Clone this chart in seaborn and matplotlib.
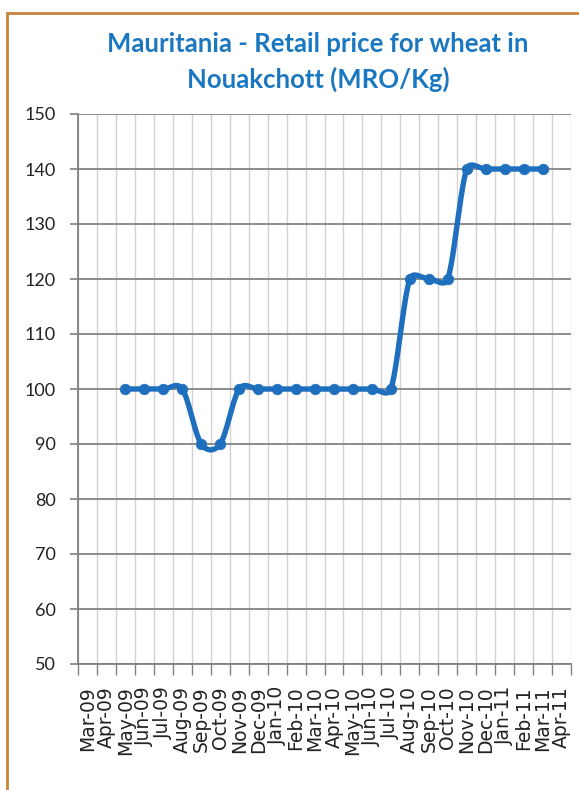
import numpy as np
import pandas as pd
import matplotlib
matplotlib.use("Agg")
import matplotlib.pyplot as plt
import seaborn as sns
from matplotlib.patches import Rectangle

# ---------------- data ----------------
months = ["Mar-09", "Apr-09", "May-09", "Jun-09", "Jul-09", "Aug-09", "Sep-09",
          "Oct-09", "Nov-09", "Dec-09", "Jan-10", "Feb-10", "Mar-10", "Apr-10",
          "May-10", "Jun-10", "Jul-10", "Aug-10", "Sep-10", "Oct-10", "Nov-10",
          "Dec-10", "Jan-11", "Feb-11", "Mar-11", "Apr-11"]
price_months = ["May-09", "Jun-09", "Jul-09", "Aug-09", "Sep-09", "Oct-09",
                "Nov-09", "Dec-09", "Jan-10", "Feb-10", "Mar-10", "Apr-10",
                "May-10", "Jun-10", "Jul-10", "Aug-10", "Sep-10", "Oct-10",
                "Nov-10", "Dec-10", "Jan-11", "Feb-11", "Mar-11"]
prices = [100, 100, 100, 100, 90, 90,
          100, 100, 100, 100, 100, 100,
          100, 100, 100, 120, 120, 120,
          140, 140, 140, 140, 140]
y_ticks = [50, 60, 70, 80, 90, 100, 110, 120, 130, 140, 150]
title_lines = ["Mauritania - Retail price for wheat in", "Nouakchott (MRO/Kg)"]

LINE_COLOR = "#1f6fbf"
TITLE_COLOR = "#1b78c0"

df = pd.DataFrame({"month": price_months, "price": prices})
df["pos"] = [months.index(m) for m in df["month"]]

# pixel scales of the plot area (used only to shape the smoothing like Excel)
PX_X = 493 / len(months)
PX_Y = 550 / (y_ticks[-1] - y_ticks[0])


def smooth_curve(xs, ys, n=40):
    """Excel-like smoothed line: cubic Bezier through the points, tangent
    (P[i+1]-P[i-1])/6 capped at half the adjacent segment length."""
    pts = np.column_stack([np.asarray(xs, float) * PX_X, np.asarray(ys, float) * PX_Y])
    ext = np.vstack([pts[0], pts, pts[-1]])
    t = np.linspace(0, 1, n)[:, None]
    out = []
    for i in range(len(pts) - 1):
        p0 = ext[i + 1]
        p3 = ext[i + 2]
        seg_len = np.linalg.norm(p3 - p0)
        m0 = (ext[i + 2] - ext[i]) / 6.0
        m1 = (ext[i + 3] - ext[i + 1]) / 6.0
        for m in (m0, m1):
            L = np.linalg.norm(m)
            if L > seg_len / 2 and L > 0:
                m *= (seg_len / 2) / L
        c1 = p0 + m0
        c2 = p3 - m1
        seg = ((1 - t) ** 3) * p0 + 3 * ((1 - t) ** 2) * t * c1 \
            + 3 * (1 - t) * t ** 2 * c2 + t ** 3 * p3
        out.append(seg if i == 0 else seg[1:])
    arr = np.vstack(out)
    return pd.DataFrame({"x": arr[:, 0] / PX_X, "y": arr[:, 1] / PX_Y})


curve = smooth_curve(df["pos"].values, df["price"].values)

# ---------------- figure ----------------
sns.set_style("white")
plt.rcParams["font.family"] = ["Lato", "DejaVu Sans"]

fig = plt.figure(figsize=(5.79, 7.90), dpi=100)
fig.patch.set_facecolor("white")
ax = fig.add_axes([78 / 579, (790 - 664) / 790, 493 / 579, 550 / 790])

sns.lineplot(data=curve, x="x", y="y", sort=False, estimator=None, ax=ax,
             color=LINE_COLOR, linewidth=3.9, zorder=4, solid_capstyle="round")
sns.scatterplot(data=df, x="pos", y="price", ax=ax, color=LINE_COLOR,
                edgecolor=LINE_COLOR, s=58, zorder=5, linewidth=0.5)

ax.set_xlim(-0.5, len(months) - 0.5)
ax.set_ylim(y_ticks[0], y_ticks[-1])
ax.set_yticks(y_ticks)
ax.set_yticklabels([str(v) for v in y_ticks], fontsize=13, color="#222222")

major_x = np.arange(-0.5, len(months), 1.0)
ax.set_xticks(major_x)
ax.set_xticklabels([""] * len(major_x))
ax.set_xticks(np.arange(len(months)), minor=True)
ax.set_xticklabels(months, minor=True, rotation=90, fontsize=13.5,
                   family="DejaVu Sans", color="#222222", va="top", ha="center")

ax.tick_params(axis="x", which="major", length=8, width=1, color="#808080", direction="out")
ax.tick_params(axis="x", which="minor", length=0, pad=16)
ax.tick_params(axis="y", which="major", length=6, width=1.2, color="#808080", pad=10)
ax.tick_params(bottom=True, left=True)

ax.grid(axis="x", which="major", color="#d2d2d2", linewidth=1.0, zorder=0)
ax.grid(axis="y", which="major", color="#8c8c8c", linewidth=1.4, zorder=0)
ax.set_axisbelow(True)

for side in ["top", "right"]:
    ax.spines[side].set_visible(False)
for side in ["left", "bottom"]:
    ax.spines[side].set_color("#808080")
    ax.spines[side].set_linewidth(1.3)

ax.set_xlabel("")
ax.set_ylabel("")

# title
fig.text(318 / 579, 1 - 52 / 790, title_lines[0], ha="center", va="baseline",
         fontsize=18.5, fontweight="bold", color=TITLE_COLOR, family=["Lato", "DejaVu Sans"])
fig.text(318 / 579, 1 - 88 / 790, title_lines[1], ha="center", va="baseline",
         fontsize=18.5, fontweight="bold", color=TITLE_COLOR, family=["Lato", "DejaVu Sans"])

# chart border (orange frame, running off right/bottom edges)
fig.patches.append(Rectangle((7 / 579, -0.05), 1.0, 1 - 13 / 790 + 0.05,
                             transform=fig.transFigure, fill=False,
                             edgecolor="#c8843c", linewidth=2.0, zorder=10))

fig.savefig("out.png", dpi=100, facecolor="white")
